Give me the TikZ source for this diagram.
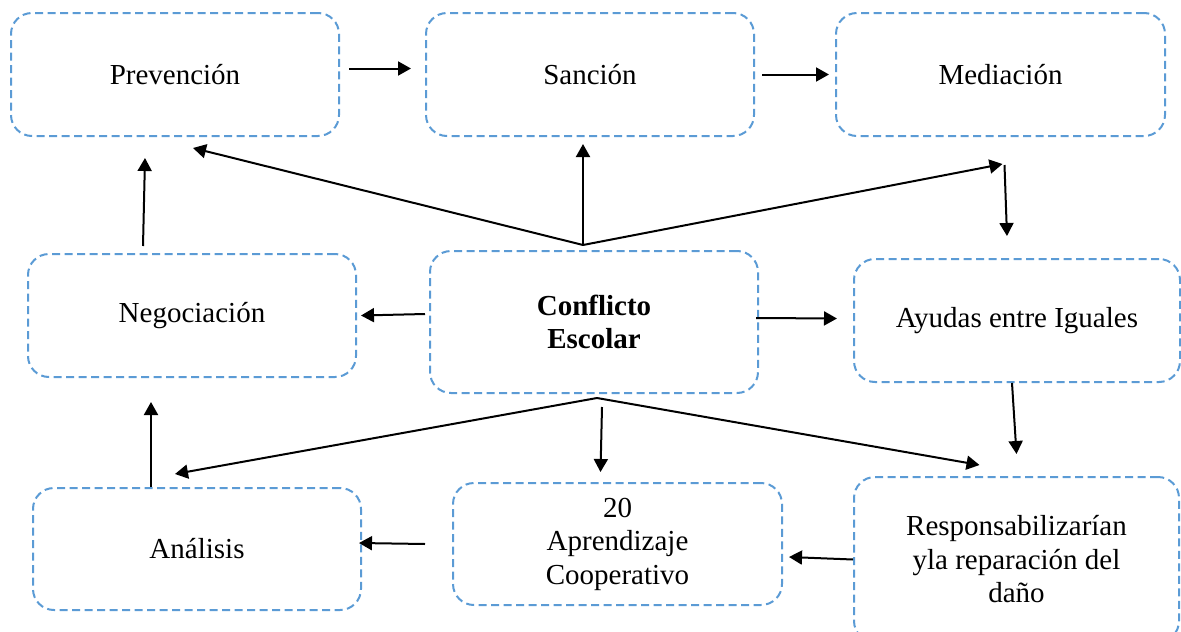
\documentclass[tikz,border=0pt]{standalone}
\usepackage{fontspec}
\setmainfont{Liberation Serif}
\usepackage{tikz}
\usetikzlibrary{arrows.meta, calc}

\definecolor{boxblue}{HTML}{5B9BD5}

\begin{document}
\begin{tikzpicture}[x=1pt, y=-1pt,
	caja/.style={draw=boxblue, line width=2pt, dash pattern=on 8pt off 4.5pt,
		rounded corners=21pt, minimum width=328pt, minimum height=123pt,
		inner sep=0pt, align=center, font=\fontsize{29pt}{33.5pt}\selectfont},
	flecha/.style={draw=black, line width=2pt, -{Triangle[length=13pt,width=14pt]}}]
				\clip (0,0) rectangle (1181,632);
				
				\node[caja] (prev) at (175,74.5) {Prevención};
				\node[caja] (san) at (590,74.5) {Sanción};
				\node[caja, minimum width=329pt] (med) at (1000.5,74.5) {Mediación};
				\node[caja] (neg) at (192,315.5) {Negociación};
				\node[caja, minimum height=142pt, font=\fontsize{29pt}{33.5pt}\selectfont\bfseries] (conf) at (594,322) {Conflicto\\Escolar};
				\node[caja, minimum width=326pt] (ayu) at (1017,320.5) {Ayudas entre Iguales};
				\node[caja, minimum height=122pt] (ana) at (197,549) {Análisis};
				\node[caja, minimum width=329pt, minimum height=122pt] (apr) at (617.5,544) {20\\Aprendizaje\\Cooperativo};
				\node[caja, minimum width=325pt, minimum height=165pt] (resp) at (1016.5,559.5) {Responsabilizarían\\yla reparación del\\daño};
				
				\coordinate (jtop) at ([xshift=-11pt,yshift=5pt]conf.north);
				\coordinate (jbot) at ([xshift=3pt,yshift=-4pt]conf.south);
				
				\draw[flecha] ([xshift=9pt,yshift=6pt]prev.east) -- ([xshift=-14pt,yshift=6pt]san.west);
				\draw[flecha] ([xshift=7pt]san.east) -- ([xshift=-6pt]med.west);
				
				\draw[flecha] (jtop) -- ([xshift=18pt,yshift=-11pt]prev.south);
				\draw[flecha] (jtop) -- ([xshift=-7pt,yshift=-7pt]san.south);
				\draw[flecha] (jtop) -- ([xshift=2pt,yshift=-27pt]med.south);
				\draw[flecha] ([xshift=4pt,yshift=-28pt]med.south) -- ([xshift=-10pt,yshift=22pt]ayu.north);
				\draw[flecha] ([xshift=-49pt,yshift=7pt]neg.north) -- ([xshift=-30pt,yshift=-21pt]prev.south);
				
				\draw[flecha] ([xshift=-4pt,yshift=8pt]conf.west) -- ([xshift=4pt]neg.east);
				\draw[flecha] ([xshift=-3pt,yshift=4pt]conf.east) -- ([xshift=-16pt,yshift=2pt]ayu.west);
				\draw[flecha] ([xshift=-5pt]ayu.south) -- ([yshift=22pt]resp.north);
				
				\draw[flecha] (jbot) -- ([xshift=-22pt,yshift=13pt]ana.north);
				\draw[flecha] ([xshift=8pt,yshift=-13pt]conf.south) -- ([xshift=-17pt,yshift=10pt]apr.north);
				\draw[flecha] (jbot) -- ([xshift=-37pt,yshift=11pt]resp.north);
				\draw[flecha] ([xshift=-46pt]ana.north) -- ([xshift=-41pt,yshift=-24pt]neg.south);
				\draw[flecha] ([xshift=-27pt]apr.west) -- ([xshift=-3pt,yshift=6pt]ana.east);
				\draw[flecha] (resp.west) -- ([xshift=6pt,yshift=-13pt]apr.east);
\end{tikzpicture}
\end{document}
